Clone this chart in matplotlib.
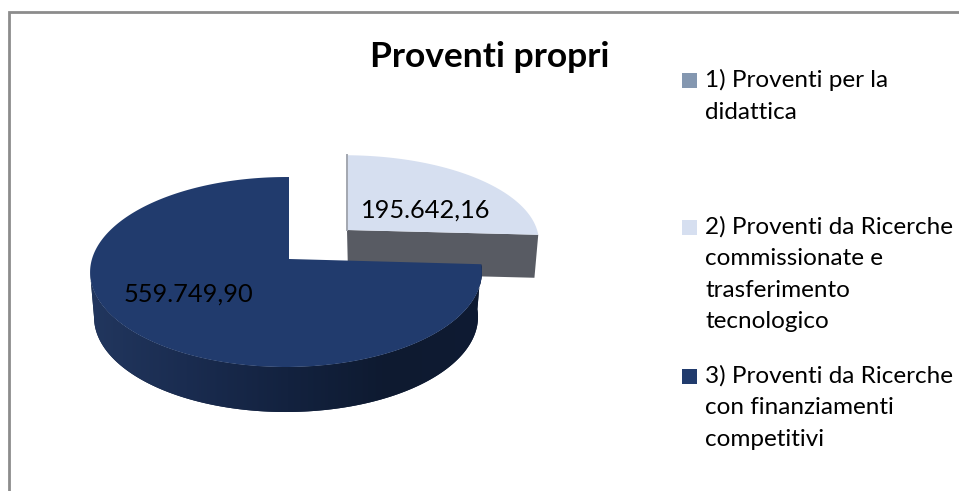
import numpy as np
import matplotlib
matplotlib.use('Agg')
import matplotlib.pyplot as plt
from matplotlib.colors import LinearSegmentedColormap
from matplotlib.patches import Rectangle

plt.rcParams['font.family'] = ['Lato', 'DejaVu Sans']

title = 'Proventi propri'
labels = ['1) Proventi per la\ndidattica',
          '2) Proventi da Ricerche\ncommissionate e\ntrasferimento\ntecnologico',
          '3) Proventi da Ricerche\ncon finanziamenti\ncompetitivi']
values = [0.0, 195642.16, 559749.90]
colors = ['#8497b0', '#d6dff0', '#213b6d']

# the figure is laid out in reference pixels, y going down
W, H = 959, 491
fig = plt.figure(figsize=(W / 100, H / 100), dpi=100)
ax = fig.add_axes([0, 0, 1, 1])

# perspective tilt of the pie disc
K, M = 0.137, 0.0153


def project(t, cx, cy, rx, ry, depth=0.0):
    # point on the disc rim at angle t (degrees), depth = px below the top face
    t = np.radians(t)
    w = 1 + K * np.sin(t) + M * np.cos(t)
    scale = 0.98 if depth else 1.0
    return cx + scale * rx * np.cos(t) / w, cy - ry * np.sin(t) / w + depth


def fmt(v):
    return f'{v:,.2f}'.replace(',', '#').replace('.', ',').replace('#', '.')


# slice angles, clockwise from 12 o'clock
edges = 90 - np.cumsum([0] + values) / sum(values) * 360

# ---- slice 2, pulled out ----
c2 = dict(cx=347, cy=230, rx=193, ry=85)
d2 = 43
t2 = np.linspace(edges[1], edges[2], 80)
x_end, y_end = project(t2[-1], **c2)
x_end_b, y_end_b = project(t2[-1], depth=d2, **c2)
ax.fill([c2['cx'], x_end, x_end_b, c2['cx'] + 1],
        [c2['cy'], y_end, y_end_b, c2['cy'] + d2], color='#585b63', lw=0, zorder=2)
x, y = project(t2, **c2)
ax.fill(np.r_[c2['cx'], x], np.r_[c2['cy'], y], color=colors[1], lw=0, zorder=3)
ax.plot([c2['cx'], c2['cx']], [c2['cy'], y[0]], color='#a3a7b0', lw=1.4, zorder=3)

# ---- slice 3 ----
c3 = dict(cx=289, cy=259, rx=194, ry=93.2)
d3 = 45
t_wall = np.linspace(edges[2], -172, 160)
xt, yt = project(t_wall, **c3)
xb, yb = project(t_wall, depth=d3, **c3)
wall = ax.fill(np.r_[xt, xb[::-1]], np.r_[yt, yb[::-1]], color='#14233f', lw=0, zorder=4)[0]
wall_cmap = LinearSegmentedColormap.from_list(
    'wall', ['#22375f', '#1a2c50', '#13223f', '#0e1a30', '#0f1b33'])
im = ax.imshow(np.linspace(0, 1, 256).reshape(1, -1), cmap=wall_cmap, aspect='auto',
               extent=[85, 490, 420, 250], zorder=4)
im.set_clip_path(wall)

t3 = np.linspace(edges[2], edges[3], 300)
x, y = project(t3, **c3)
ax.fill(np.r_[c3['cx'], x], np.r_[c3['cy'], y], color=colors[2], lw=0, zorder=5)

# data labels
ax.text(426, 210, fmt(values[1]), fontsize=18.3, color='black', ha='center', va='center', zorder=6)
ax.text(188, 294, fmt(values[2]), fontsize=18.3, color='black', ha='center', va='center', zorder=6)

ax.text(490, 57, title, fontsize=25.5, fontweight='bold', color='black',
        ha='center', va='center')

# legend, spaced unevenly so placed by hand
swatch_y = [73, 220, 369]
for lab, col, sy in zip(labels, colors, swatch_y):
    ax.add_patch(Rectangle((682, sy), 15, 15, facecolor=col, edgecolor='none'))
    ax.text(705, sy - 4, lab, fontsize=17.5, color='black', ha='left', va='top', linespacing=1.62)

# chart frame, only top and left fall inside the crop
ax.plot([9, 9, W], [H, 12, 12], color='#8c8c8c', lw=2, solid_joinstyle='miter')

ax.set_xlim(0, W)
ax.set_ylim(H, 0)
ax.axis('off')
fig.savefig('out.png', dpi=100, facecolor='white')
